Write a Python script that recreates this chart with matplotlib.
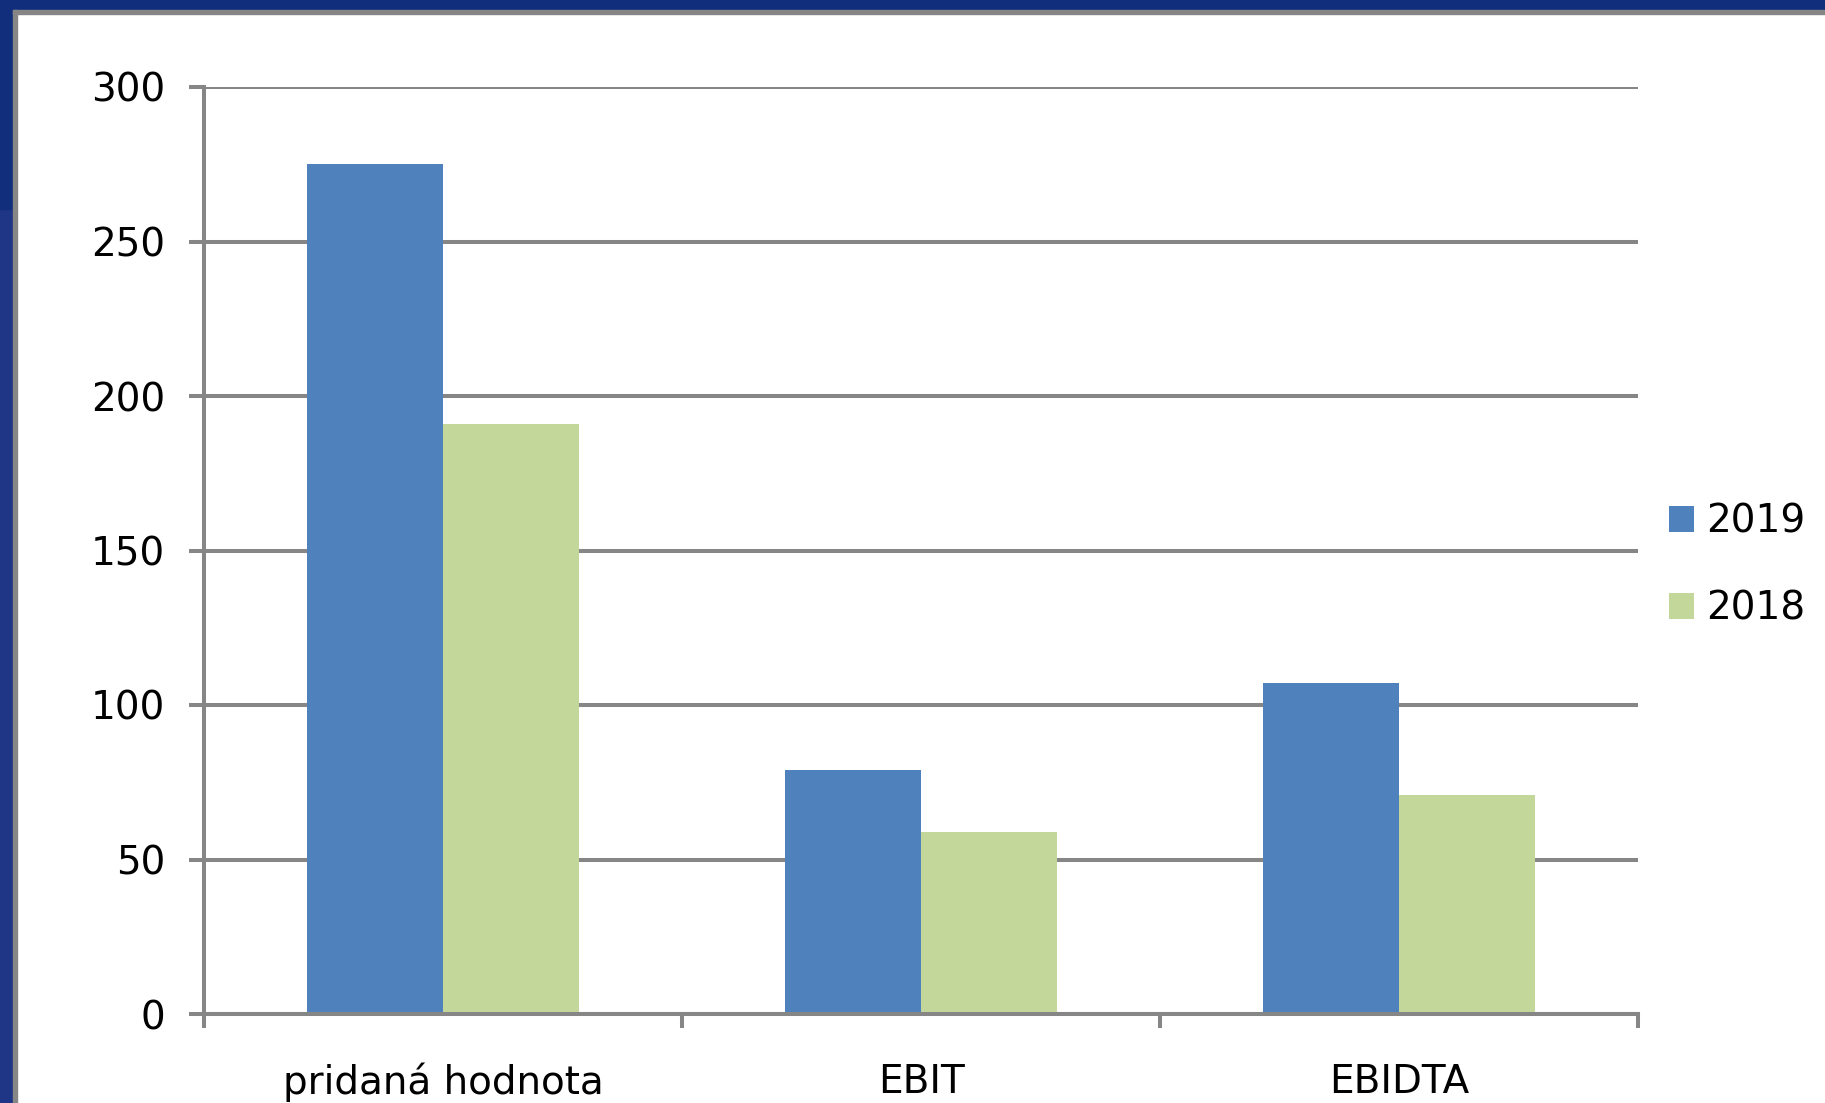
import matplotlib
matplotlib.use("Agg")
import matplotlib.pyplot as plt
import numpy as np
from matplotlib.patches import Rectangle

# data
categories = ["pridaná hodnota", "EBIT", "EBIDTA"]
years = ["2019", "2018"]
vals_2019 = [275, 79, 107]
vals_2018 = [191, 59, 71]
yticks = [0, 50, 100, 150, 200, 250, 300]

blue = "#4f81bd"
green = "#c4d79b"
grey = "#868686"

W, H = 1825, 1103
fig = plt.figure(figsize=(W / 100, H / 100), dpi=100)
fig.patch.set_facecolor("white")

# frame around the slide area (blue band + grey line)
fig.patches.append(Rectangle((0, 1 - 10 / H), 1, 10 / H, transform=fig.transFigure, color="#112e7d", zorder=0))
fig.patches.append(Rectangle((0, 0), 13 / W, 1 - 209 / H, transform=fig.transFigure, color="#1f3586", zorder=0))
fig.patches.append(Rectangle((0, 1 - 209 / H), 13 / W, 209 / H, transform=fig.transFigure, color="#112e7d", zorder=0))
fig.patches.append(Rectangle((13 / W, 1 - 14 / H), 1, 4 / H, transform=fig.transFigure, color=grey, zorder=0))
fig.patches.append(Rectangle((13 / W, 0), 4 / W, 1 - 10 / H, transform=fig.transFigure, color=grey, zorder=0))

ax = fig.add_axes([204 / W, 89 / H, (1638 - 204) / W, (1014 - 87) / H])

x = np.arange(len(categories))
w = 0.285
ax.bar(x - w / 2, vals_2019, width=w, color=blue, label=years[0], zorder=3)
ax.bar(x + w / 2, vals_2018, width=w, color=green, label=years[1], zorder=3)

ax.set_xlim(-0.5, len(categories) - 0.5)
ax.set_ylim(0, 300)
ax.set_yticks(yticks)
ax.set_xticks(x)
ax.set_xticklabels(categories)
ax.set_xticks(np.arange(len(categories) + 1) - 0.5, minor=True)

ax.yaxis.grid(True, color=grey, linewidth=2.9, zorder=0)
ax.set_axisbelow(True)
for s in ["top", "right"]:
    ax.spines[s].set_visible(False)
for s in ["left", "bottom"]:
    ax.spines[s].set_color(grey)
    ax.spines[s].set_linewidth(2.9)
    ax.spines[s].set_zorder(4)

fs = 28
ax.tick_params(axis="y", length=11, width=2.9, color=grey, pad=17, labelsize=fs)
ax.tick_params(axis="x", which="major", length=0, pad=35, labelsize=fs)
ax.tick_params(axis="x", which="minor", length=10, width=2.9, color=grey)

fig.legend(loc="center left", bbox_to_anchor=(1669 / W, 1 - 565 / H), frameon=False,
           fontsize=fs, borderpad=0, borderaxespad=0, handlelength=0.64, handleheight=0.66,
           handletextpad=0.32, labelspacing=1.27)

fig.savefig("out.png", dpi=100)
